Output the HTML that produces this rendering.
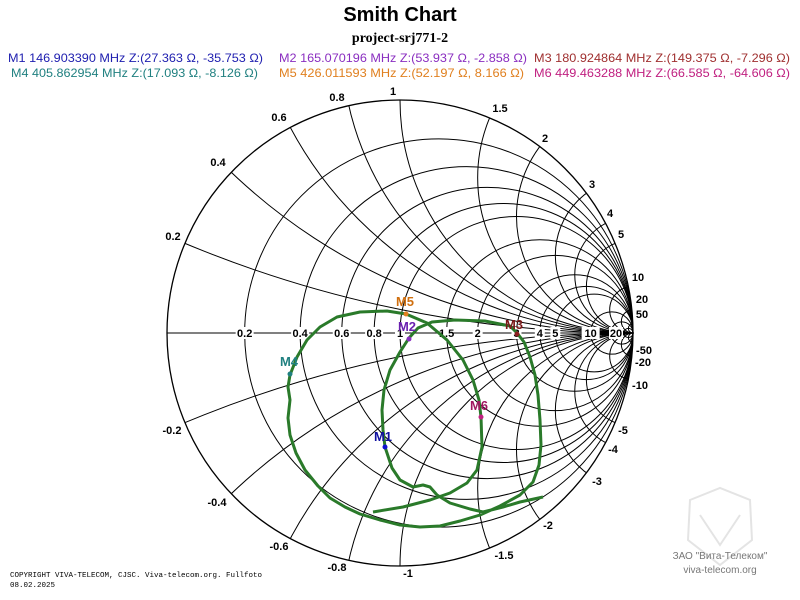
<!DOCTYPE html>
<html><head><meta charset="utf-8"><style>
html,body{margin:0;padding:0;background:#fff;width:800px;height:600px;overflow:hidden;}
svg{display:block;font-family:"Liberation Sans",Arial,sans-serif;}
</style></head><body>
<svg width="800" height="600" viewBox="0 0 800 600" xmlns="http://www.w3.org/2000/svg">
<defs><clipPath id="c"><circle cx="400" cy="333" r="233"/></clipPath></defs>
<rect width="800" height="600" fill="#fff"/>
<text x="400" y="21" text-anchor="middle" font-size="20" font-weight="bold">Smith Chart</text>
<text x="400" y="42" text-anchor="middle" font-size="14" font-weight="bold" font-family="Liberation Serif,serif">project-srj771-2</text>
<g font-size="12">
<text x="8" y="62" fill="#2020b0" textLength="255" lengthAdjust="spacingAndGlyphs">M1   146.903390 MHz  Z:(27.363 Ω, -35.753 Ω)</text>
<text x="279" y="62" fill="#8a2ec0" textLength="248" lengthAdjust="spacingAndGlyphs">M2   165.070196 MHz  Z:(53.937 Ω, -2.858 Ω)</text>
<text x="534" y="62" fill="#a03030" textLength="256" lengthAdjust="spacingAndGlyphs">M3   180.924864 MHz  Z:(149.375 Ω, -7.296 Ω)</text>
<text x="11" y="77" fill="#208080" textLength="247" lengthAdjust="spacingAndGlyphs">M4   405.862954 MHz  Z:(17.093 Ω, -8.126 Ω)</text>
<text x="279" y="77" fill="#e08020" textLength="245" lengthAdjust="spacingAndGlyphs">M5   426.011593 MHz  Z:(52.197 Ω, 8.166 Ω)</text>
<text x="534" y="77" fill="#c02080" textLength="256" lengthAdjust="spacingAndGlyphs">M6   449.463288 MHz  Z:(66.585 Ω, -64.606 Ω)</text>
</g>
<g fill="none" stroke="#000" stroke-width="1" clip-path="url(#c)" id="grid"></g>
<circle cx="400" cy="333" r="233" fill="none" stroke="#000" stroke-width="1.3"/>
<line x1="167" y1="333" x2="634" y2="333" stroke="#000"/>
<g id="rl" font-size="11" font-weight="bold" text-anchor="middle"></g>
<g font-size="11" font-weight="bold" text-anchor="middle">
<text x="393" y="95">1</text><text x="337" y="101">0.8</text><text x="500" y="112">1.5</text>
<text x="279" y="121">0.6</text><text x="545" y="142">2</text><text x="218" y="166">0.4</text>
<text x="592" y="188">3</text><text x="610" y="217">4</text><text x="621" y="238">5</text>
<text x="173" y="240">0.2</text><text x="638" y="281">10</text><text x="642" y="303">20</text>
<text x="642" y="318">50</text><text x="644" y="354">-50</text><text x="643" y="366">-20</text>
<text x="640" y="389">-10</text><text x="172" y="434">-0.2</text><text x="623" y="434">-5</text>
<text x="613" y="453">-4</text><text x="597" y="485">-3</text><text x="217" y="506">-0.4</text>
<text x="548" y="529">-2</text><text x="279" y="550">-0.6</text><text x="504" y="559">-1.5</text>
<text x="337" y="571">-0.8</text><text x="408" y="577">-1</text>
</g>
<polyline fill="none" stroke="#2a7a2a" stroke-width="3" stroke-linejoin="round" points="543,497 520,502 503,507 483,512 470,509 450,503 437,495 430,487 423,485 413,487 400,480 392,468 387,453 385,447 383,430 382,410 384,390 390,370 400,352 409,338 418,328 432,322 455,320 485,321 510,326 517,333 524,342 530,357 535,375 538,395 540,420 541,445 539,465 533,482 520,495 500,506 480,515 460,521 440,526 420,527 400,525 380,520 360,514 345,507 330,498 318,486 305,470 296,453 290,435 288,418 290,400 288,387 290,375 297,357 307,340 320,327 337,317 360,312 387,311 406,314 427,323 447,340 463,360 473,380 479,400 481,417 482,447 477,470 467,483 450,493 430,500 403,507 373,512"/>
<g font-size="13" font-weight="bold" text-anchor="middle">
<circle cx="385" cy="447" r="2.5" fill="#1010d0"/><text x="383" y="441" fill="#1010a0">M1</text>
<circle cx="409" cy="339" r="2.5" fill="#8a2ec0"/><text x="407" y="331" fill="#6a20b0">M2</text>
<circle cx="517" cy="334" r="2.5" fill="#8b2020"/><text x="514" y="329" fill="#7b1818">M3</text>
<circle cx="290" cy="374" r="2.5" fill="#208080"/><text x="289" y="366" fill="#208080">M4</text>
<circle cx="406" cy="314" r="2.5" fill="#e08020"/><text x="405" y="306" fill="#d07010">M5</text>
<circle cx="481" cy="417" r="2.5" fill="#c02080"/><text x="479" y="410" fill="#a01860">M6</text>
</g>
<g fill="none" stroke="#e4e4e4" stroke-width="2">
<path d="M690 500 L720 488 L750 500 L752 540 L720 565 L688 540 Z"/>
<path d="M700 515 L720 545 L740 515"/>
</g>
<text x="720" y="559" text-anchor="middle" font-size="10" fill="#777">ЗАО "Вита-Телеком"</text>
<text x="720" y="573" text-anchor="middle" font-size="10" fill="#777">viva-telecom.org</text>
<text x="10" y="577" font-size="7.5" font-family="Liberation Mono,monospace" fill="#000">COPYRIGHT VIVA-TELECOM, CJSC. Viva-telecom.org. Fullfoto</text>
<text x="10" y="587" font-size="7.5" font-family="Liberation Mono,monospace" fill="#000">08.02.2025</text>
<script>
(function(){
var ns="http://www.w3.org/2000/svg",g=document.getElementById("grid"),rl=document.getElementById("rl");
var cx=400,cy=333,R=233,vals=[0.2,0.4,0.6,0.8,1,1.5,2,3,4,5,10,20,50];
vals.forEach(function(r){
 var c=document.createElementNS(ns,"circle");
 c.setAttribute("cx",cx+R*r/(r+1));c.setAttribute("cy",cy);c.setAttribute("r",R/(r+1));g.appendChild(c);
 [1,-1].forEach(function(s){
  var a=document.createElementNS(ns,"circle");
  a.setAttribute("cx",cx+R);a.setAttribute("cy",cy-s*R/r);a.setAttribute("r",R/r);g.appendChild(a);
 });
 var x=cx+R*(r-1)/(r+1);
 if(r<=10){
 var w=(r>=1&&r<10)?8:16;
 var b=document.createElementNS(ns,"rect");
 b.setAttribute("x",x-w/2-1);b.setAttribute("y",cy-6);b.setAttribute("width",w+2);b.setAttribute("height",12);b.setAttribute("fill","#fff");rl.appendChild(b);
 var t=document.createElementNS(ns,"text");t.setAttribute("x",x);t.setAttribute("y",cy+4);t.textContent=String(r);rl.appendChild(t);}
});
var b=document.createElementNS(ns,"rect");b.setAttribute("x",609);b.setAttribute("y",327);b.setAttribute("width",14);b.setAttribute("height",12);b.setAttribute("fill","#fff");rl.appendChild(b);
var t=document.createElementNS(ns,"text");t.setAttribute("x",616);t.setAttribute("y",337);t.textContent="20";rl.appendChild(t);
})();
</script>
</svg>
</body></html>
